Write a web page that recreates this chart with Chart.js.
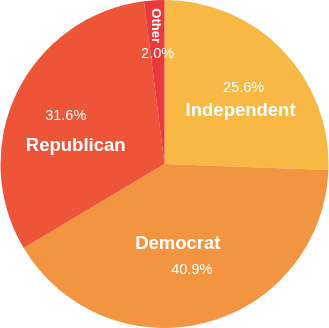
<!DOCTYPE html>
<html>
<head>
<meta charset="utf-8">
<script src="https://cdn.jsdelivr.net/npm/chart.js@4"></script>
<style>
  html, body { margin: 0; padding: 0; background: #fff; }
  #wrap { width: 329px; height: 328px; }
</style>
</head>
<body>
<div id="wrap"><canvas id="pie" width="329" height="328"></canvas></div>
<script>
const parties = ["Independent", "Democrat", "Republican", "Other"];
const shares = [25.6, 40.9, 31.6, 2.0];
const sliceColors = ["#F7B944", "#F39441", "#EE5538", "#E9393A"];

// where the party name sits relative to the percentage (small slices get rotated text)
const nameShift = [[-3, 23], [-14, -27], [10, 30], null];

const sliceLabels = {
  id: "sliceLabels",
  afterDatasetsDraw(chart) {
    const ctx = chart.ctx;
    const arcs = chart.getDatasetMeta(0).data;
    ctx.save();
    ctx.fillStyle = "#fff";
    ctx.textAlign = "center";
    ctx.textBaseline = "middle";
    arcs.forEach((arc, i) => {
      const p = arc.getProps(["x", "y", "startAngle", "endAngle", "outerRadius"], true);
      const mid = (p.startAngle + p.endAngle) / 2;
      const px = p.x + Math.cos(mid) * p.outerRadius * 0.67;
      const py = p.y + Math.sin(mid) * p.outerRadius * 0.67;
      ctx.font = "14.5px 'Liberation Sans', Arial, sans-serif";
      ctx.fillText(shares[i].toFixed(1) + "%", px, py);

      const shift = nameShift[i];
      if (shift) {
        ctx.font = "bold 18.5px 'Liberation Sans', Arial, sans-serif";
        ctx.fillText(parties[i], px + shift[0], py + shift[1]);
      } else {
        const nx = p.x + Math.cos(mid) * p.outerRadius * 0.845;
        const ny = p.y + Math.sin(mid) * p.outerRadius * 0.845;
        ctx.save();
        ctx.translate(nx, ny);
        ctx.rotate(Math.PI / 2);
        ctx.font = "bold 13px 'Liberation Sans', Arial, sans-serif";
        ctx.fillText(parties[i], 0, 0);
        ctx.restore();
      }
    });
    ctx.restore();
  }
};

new Chart(document.getElementById("pie"), {
  type: "pie",
  data: {
    labels: parties,
    datasets: [{
      data: shares,
      backgroundColor: sliceColors,
      borderWidth: 0
    }]
  },
  options: {
    responsive: false,
    animation: false,
    layout: { padding: 0 },
    plugins: {
      legend: { display: false },
      tooltip: { enabled: false }
    }
  },
  plugins: [sliceLabels]
});
</script>
</body>
</html>
